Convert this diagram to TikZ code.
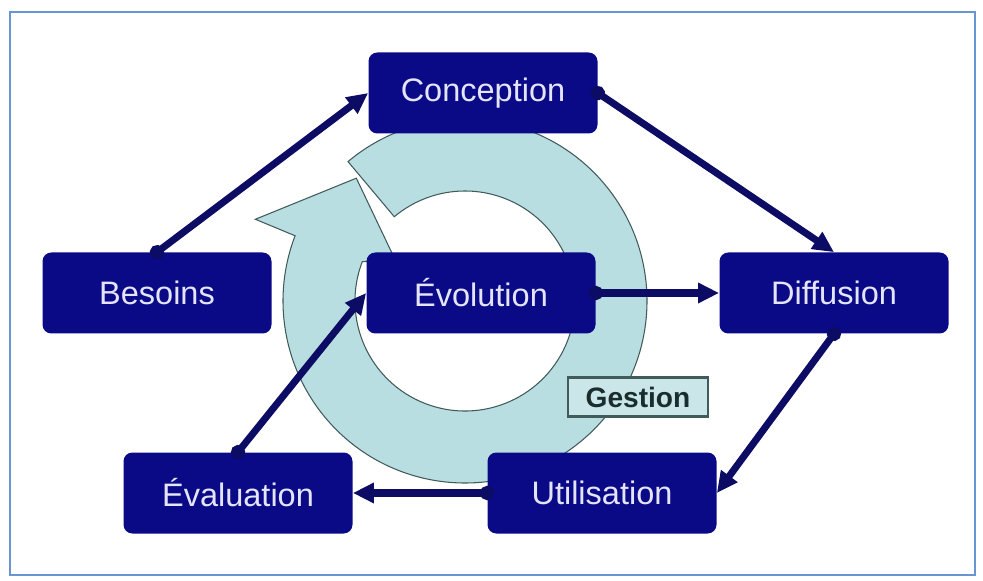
\documentclass[tikz,border=0pt]{standalone}
\usepackage{fontspec}
\setmainfont{Liberation Sans}
\usepackage{tikz}
\usetikzlibrary{positioning,arrows.meta}

\definecolor{boxnavy}{RGB}{10,10,135}
\definecolor{arrownavy}{RGB}{12,12,100}
\definecolor{boxtext}{RGB}{228,228,252}
\definecolor{ringblue}{RGB}{185,222,225}
\definecolor{ringline}{RGB}{65,90,90}
\definecolor{framecol}{RGB}{105,150,210}
\definecolor{tagtext}{RGB}{25,45,45}

\tikzset{
  phase/.style={fill=boxnavy, rounded corners=5pt, minimum width=4.58cm, minimum height=1.62cm, inner sep=0pt, text=boxtext, font=\fontsize{18.5}{22}\selectfont},
  flow/.style={draw=arrownavy, line width=4pt, {Circle[length=8pt]}-{Triangle[length=12pt,width=11pt]}, shorten <=-4pt},
  ring/.style={fill=ringblue, draw=ringline, line width=0.6pt, line join=miter},
  tag/.style={draw=ringline, line width=1.2pt, fill=ringblue!75!white, minimum width=2.8cm, minimum height=0.78cm, inner sep=0pt, text=tagtext, font=\bfseries\fontsize{16}{19}\selectfont}
}

\begin{document}
\begin{tikzpicture}
            \useasboundingbox (0,0) rectangle (19.66,11.6);
            \draw[framecol, line width=1.4pt] (0.2,0.1) rectangle (19.5,11.36); % outer frame

            % management cycle behind the boxes
            \coordinate (hub) at (9.3,5.58);
            \draw[ring] ([shift={(130:3.64)}]hub) arc[start angle=130, end angle=-201, radius=3.64]
                -- ([shift={(158.7:4.5)}]hub) -- ([shift={(131.5:3.28)}]hub)
                -- ([shift={(150:1.6)}]hub) -- ([shift={(159:2.2)}]hub)
                arc[start angle=159, end angle=490, radius=2.2] -- cycle;

            \node[phase] (conception) at (9.66,9.74) {Conception};
            \node[phase] (besoins) at (3.14,5.74) {Besoins};
            \node[phase] (evolution) at (9.62,5.74) {Évolution};
            \node[phase] (diffusion) at (16.68,5.74) {Diffusion};
            \node[phase] (evaluation) at (4.76,1.74) {Évaluation};
            \node[phase] (utilisation) at (12.04,1.74) {Utilisation};

            \draw[flow] (besoins.north) -- (conception.west);
            \draw[flow] (conception.east) -- (diffusion.north);
            \draw[flow] (diffusion.south) -- (utilisation.east);
            \draw[flow] (utilisation.west) -- (evaluation.east);
            \draw[flow] (evaluation.north) -- (evolution.west);
            \draw[flow] (evolution.east) -- (diffusion.west);

            \node[tag] (gestion) at (12.76,3.66) {Gestion}; % cycle label
        \end{tikzpicture}
\end{document}
